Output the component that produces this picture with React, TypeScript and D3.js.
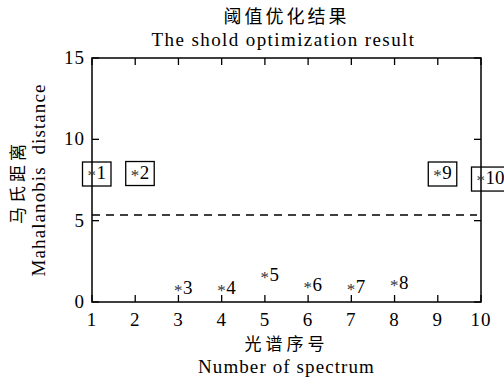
import { useEffect, useRef } from "react";
import * as d3 from "d3";

const spectra = [1, 2, 3, 4, 5, 6, 7, 8, 9, 10];
const distances = [7.93, 7.96, 0.84, 0.84, 1.66, 1.05, 0.94, 1.15, 7.93, 7.62];
const boxed = [true, true, false, false, false, false, false, false, true, true];
const threshold = 5.35;
const xTicks = [1, 2, 3, 4, 5, 6, 7, 8, 9, 10];
const yTicks = [0, 5, 10, 15];

const serif = "'Liberation Serif', 'Noto Sans CJK SC', serif";
const cjk = "'Noto Sans CJK SC', serif";

export default function App() {
  const ref = useRef<SVGSVGElement>(null);

  useEffect(() => {
    if (!ref.current) return;
    const svg = d3.select(ref.current);
    svg.selectAll("*").remove();

    const w = 504, h = 387;
    const left = 92, right = 481, top = 58, bottom = 302;
    const tick = 7;

    const x = d3.scaleLinear().domain([1, 10]).range([left, right]);
    const y = d3.scaleLinear().domain([0, 15]).range([bottom, top]);

    svg.attr("width", w).attr("height", h);
    svg.append("rect").attr("width", w).attr("height", h).attr("fill", "#fff");

    const g = svg.append("g");

    // ticks on all four sides, pointing inward
    xTicks.forEach((v) => {
      g.append("line").attr("x1", x(v)).attr("x2", x(v)).attr("y1", bottom).attr("y2", bottom - tick)
        .attr("stroke", "#000").attr("stroke-width", 1.3);
      g.append("line").attr("x1", x(v)).attr("x2", x(v)).attr("y1", top).attr("y2", top + tick)
        .attr("stroke", "#000").attr("stroke-width", 1.3);
      g.append("text").attr("x", x(v)).attr("y", bottom + 24).attr("text-anchor", "middle")
        .style("font-family", serif).style("font-size", "19px").style("letter-spacing", "1px").text(v);
    });
    yTicks.forEach((v) => {
      g.append("line").attr("x1", left).attr("x2", left + tick).attr("y1", y(v)).attr("y2", y(v))
        .attr("stroke", "#000").attr("stroke-width", 1.3);
      g.append("line").attr("x1", right).attr("x2", right - tick).attr("y1", y(v)).attr("y2", y(v))
        .attr("stroke", "#000").attr("stroke-width", 1.3);
      g.append("text").attr("x", left - 7).attr("y", y(v) + 6).attr("text-anchor", "end")
        .style("font-family", serif).style("font-size", "19px").style("letter-spacing", "1px").text(v);
    });

    g.append("rect").attr("x", left).attr("y", top).attr("width", right - left).attr("height", bottom - top)
      .attr("fill", "none").attr("stroke", "#000").attr("stroke-width", 1.5);

    // threshold line
    g.append("line").attr("x1", x(1)).attr("x2", x(10) - 4).attr("y1", y(threshold)).attr("y2", y(threshold))
      .attr("stroke", "#000").attr("stroke-width", 1.5).attr("stroke-dasharray", "8,6");

    // points
    spectra.forEach((s, i) => {
      const px = x(s), py = y(distances[i]);
      const t = g.append("text").attr("x", px - 4.5).attr("y", py + 6)
        .style("font-family", serif).style("font-size", "19px");
      t.append("tspan").attr("fill", "#333").style("font-size", "17px").attr("dy", 2).text("*");
      t.append("tspan").attr("dy", -2).attr("dx", 0.5).text(s);
      if (boxed[i]) {
        const bb = (t.node() as SVGTextElement).getBBox();
        g.append("rect").attr("x", bb.x - 5).attr("y", bb.y).attr("width", bb.width + 10).attr("height", bb.height + 1)
          .attr("fill", "none").attr("stroke", "#000").attr("stroke-width", 1.3);
      }
    });

    // titles
    const cx = (left + right) / 2;
    svg.append("text").attr("x", cx).attr("y", 23).attr("text-anchor", "middle")
      .style("font-family", cjk).style("font-size", "18px").style("letter-spacing", "3px").text("阈值优化结果");
    svg.append("text").attr("x", cx - 3).attr("y", 46).attr("text-anchor", "middle")
      .style("font-family", serif).style("font-size", "19px").style("letter-spacing", "1.4px")
      .text("The shold optimization result");

    svg.append("text").attr("x", cx).attr("y", 350).attr("text-anchor", "middle")
      .style("font-family", cjk).style("font-size", "17px").style("letter-spacing", "4px").text("光谱序号");
    svg.append("text").attr("x", cx).attr("y", 373).attr("text-anchor", "middle")
      .style("font-family", serif).style("font-size", "19px").style("letter-spacing", "1.1px")
      .text("Number of spectrum");

    const cy = (top + bottom) / 2;
    svg.append("text").attr("transform", `translate(24,${cy + 2}) rotate(-90)`).attr("text-anchor", "middle")
      .style("font-family", cjk).style("font-size", "17px").style("letter-spacing", "4px").text("马氏距离");
    svg.append("text").attr("transform", `translate(45,${cy}) rotate(-90)`).attr("text-anchor", "middle")
      .style("font-family", serif).style("font-size", "19px").style("letter-spacing", "1.1px").style("white-space", "pre")
      .text("Mahalanobis  distance");
  }, []);

  return <svg ref={ref} style={{ position: "absolute", left: 0, top: 0 }} />;
}
